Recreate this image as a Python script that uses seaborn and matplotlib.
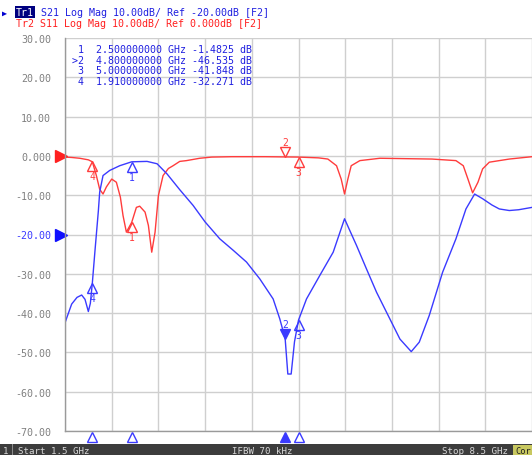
import matplotlib
matplotlib.use("Agg")
import matplotlib.pyplot as plt
import matplotlib.transforms as mtrans
from matplotlib.patches import Rectangle
import numpy as np
import pandas as pd
import seaborn as sns

# S21 (Tr1, blue)
s21_freq = [1.50, 1.52, 1.60, 1.68, 1.75, 1.80, 1.85, 1.88, 1.91, 1.95, 2.00, 2.02, 2.07,
            2.17, 2.32, 2.50, 2.73, 2.88, 3.03, 3.22, 3.42, 3.60, 3.82, 4.02, 4.22, 4.42,
            4.62, 4.72, 4.80, 4.84, 4.89, 4.94, 5.00, 5.12, 5.32, 5.52, 5.69, 5.87, 6.02,
            6.17, 6.37, 6.52, 6.69, 6.81, 6.96, 7.16, 7.36, 7.51, 7.64, 7.76, 7.90, 8.01,
            8.16, 8.30, 8.50]
s21_db = [-42.5, -41.5, -37.7, -36.0, -35.4, -36.5, -39.6, -37.5, -32.3, -24.0, -14.0, -9.2,
          -5.0, -3.7, -2.5, -1.5, -1.4, -2.0, -4.6, -8.6, -12.6, -16.8, -21.1, -24.0, -27.0,
          -31.3, -36.4, -41.5, -46.5, -55.5, -55.5, -47.3, -41.8, -36.4, -30.4, -24.5, -16.0,
          -22.8, -28.8, -34.7, -41.5, -46.6, -49.8, -47.4, -40.6, -29.6, -21.1, -13.5, -9.7,
          -10.9, -12.5, -13.5, -13.9, -13.7, -13.1]

# S11 (Tr2, red)
s11_freq = [1.50, 1.60, 1.72, 1.85, 1.91, 1.97, 2.02, 2.07, 2.12, 2.20, 2.27, 2.33, 2.37,
            2.42, 2.50, 2.57, 2.62, 2.70, 2.75, 2.80, 2.85, 2.90, 2.97, 3.05, 3.12, 3.22,
            3.32, 3.52, 3.70, 4.00, 4.50, 5.00, 5.30, 5.44, 5.57, 5.64, 5.69, 5.74, 5.79,
            5.92, 6.22, 6.60, 7.00, 7.36, 7.47, 7.54, 7.61, 7.69, 7.76, 7.86, 8.16, 8.50]
s11_db = [-0.3, -0.4, -0.6, -1.0, -1.5, -5.0, -8.5, -9.7, -7.9, -5.9, -6.7, -10.5, -15.2,
          -19.4, -16.9, -13.1, -12.8, -14.3, -17.7, -24.5, -19.4, -10.1, -5.0, -3.2, -2.5,
          -1.4, -1.2, -0.6, -0.3, -0.2, -0.2, -0.3, -0.5, -0.8, -2.5, -5.9, -9.7, -5.9,
          -2.5, -1.2, -0.6, -0.7, -0.8, -1.2, -2.5, -5.9, -9.4, -6.7, -3.3, -1.6, -0.8, -0.2]

marker_ids = ["1", "2", "3", "4"]
marker_freq = [2.5, 4.8, 5.0, 1.91]
s21_marker_db = [-1.4825, -46.535, -41.848, -32.271]
s11_marker_db = [-16.9, -0.2, -0.3, -1.3]

y_ticks = [-70, -60, -50, -40, -30, -20, -10, 0, 10, 20, 30]
y_tick_labels = ["-70.00", "-60.00", "-50.00", "-40.00", "-30.00", "-20.00",
                 "-10.00", "0.000", "10.00", "20.00", "30.00"]

table_rows = [" 1  2.500000000 GHz -1.4825 dB",
              ">2  4.800000000 GHz -46.535 dB",
              " 3  5.000000000 GHz -41.848 dB",
              " 4  1.910000000 GHz -32.271 dB"]

BLUE = "#3a3aff"
RED = "#ff3c3c"
W, H = 532, 456

sns.set_style("white")
plt.rcParams["font.family"] = ["DejaVu Sans Mono"]

fig = plt.figure(figsize=(W / 100, H / 100), dpi=100)
ax = fig.add_axes([65 / W, 24 / H, 467 / W, 393 / H])

s21 = pd.DataFrame({"freq": s21_freq, "db": s21_db})
s11 = pd.DataFrame({"freq": s11_freq, "db": s11_db})
sns.lineplot(data=s11, x="freq", y="db", color=RED, lw=1, ax=ax, estimator=None, sort=False)
sns.lineplot(data=s21, x="freq", y="db", color=BLUE, lw=1, ax=ax, estimator=None, sort=False)

ax.set_xlim(1.5, 8.5)
ax.set_ylim(-70, 30)
ax.set_xticks(np.linspace(1.5, 8.5, 11))
ax.set_xticklabels([])
ax.set_yticks(y_ticks)
ax.set_yticklabels(y_tick_labels)
ax.tick_params(length=0, pad=10, labelsize=7.2, labelcolor="#808080")
for lab in ax.get_yticklabels():
    if lab.get_text() == "-20.00":
        lab.set_color(BLUE)
ax.grid(True, color="#cfcfcf", lw=1)
ax.set_xlabel("")
ax.set_ylabel("")
for side in ["top", "right"]:
    ax.spines[side].set_visible(False)
for side in ["left", "bottom"]:
    ax.spines[side].set_color("#9a9a9a")
    ax.spines[side].set_linewidth(1)


def draw_marker(f, v, label, color, up=True, filled=False):
    dy = -5 if up else 5
    tr = mtrans.offset_copy(ax.transData, fig=fig, x=0, y=dy, units="dots")
    ax.plot([f], [v], marker="^" if up else "v", ms=7, mec=color, mew=1,
            mfc=color if filled else "none", transform=tr, zorder=5)
    tr_t = mtrans.offset_copy(ax.transData, fig=fig, x=0, y=-15 if up else 15, units="dots")
    ax.text(f, v, label, color=color, fontsize=7, ha="center", va="center",
            transform=tr_t, zorder=5)


for i, m in enumerate(marker_ids):
    draw_marker(marker_freq[i], s11_marker_db[i], m, RED, up=(m != "2"))
    draw_marker(marker_freq[i], s21_marker_db[i], m, BLUE, up=(m != "2"), filled=(m == "2"))

# reference level arrows on the left edge
ax.plot([1.44], [0], marker=">", ms=8, color="#ff2020", clip_on=False)
ax.plot([1.44], [-20], marker=">", ms=8, color="#1010ff", clip_on=False)

# marker arrows under the grid
for i, m in enumerate(marker_ids):
    ax.plot([marker_freq[i]], [-71.6], marker="^", ms=7, color=BLUE, mew=1,
            mfc=BLUE if m == "2" else "none", clip_on=False)

# marker table
for i, row in enumerate(table_rows):
    fig.text(72 / W, 1 - (50 + 10.7 * i) / H, row, color="#2020e0", fontsize=7.2,
             va="center", ha="left")

# header lines
fig.text(2 / W, 1 - 13 / H, "\u25b6", color="#0000d0", fontsize=6, va="center")
fig.text(16 / W, 1 - 13 / H, "Tr1", color="white", fontsize=7.2, va="center",
         bbox=dict(boxstyle="square,pad=0.1", fc="#000080", ec="none"))
fig.text(41 / W, 1 - 13 / H, "S21 Log Mag 10.00dB/ Ref -20.00dB [F2]", color="#2020e0",
         fontsize=7.2, va="center")
fig.text(16 / W, 1 - 24 / H, "Tr2 S11 Log Mag 10.00dB/ Ref 0.000dB [F2]", color="#ff2020",
         fontsize=7.2, va="center")

# status bar
fig.patches.append(Rectangle((0, 0), 1, 11 / H, transform=fig.transFigure,
                             fc="#3c3c3c", ec="none"))
fig.patches.append(Rectangle((12 / W, 0), 1 / W, 11 / H, transform=fig.transFigure,
                             fc="#8a8a8a", ec="none"))
fig.patches.append(Rectangle((513 / W, 0), 19 / W, 10 / H, transform=fig.transFigure,
                             fc="#c8c860", ec="none"))
bar_y = 4.5 / H
fig.text(3 / W, bar_y, "1", color="#d8d8d8", fontsize=6.6, va="center")
fig.text(18 / W, bar_y, "Start 1.5 GHz", color="#d8d8d8", fontsize=6.6, va="center")
fig.text(232 / W, bar_y, "IFBW 70 kHz", color="#d8d8d8", fontsize=6.6, va="center")
fig.text(442 / W, bar_y, "Stop 8.5 GHz", color="#d8d8d8", fontsize=6.6, va="center")
fig.text(515 / W, bar_y, "Cor", color="#202020", fontsize=6.2, va="center")

fig.savefig("out.png", dpi=100, facecolor="white")
